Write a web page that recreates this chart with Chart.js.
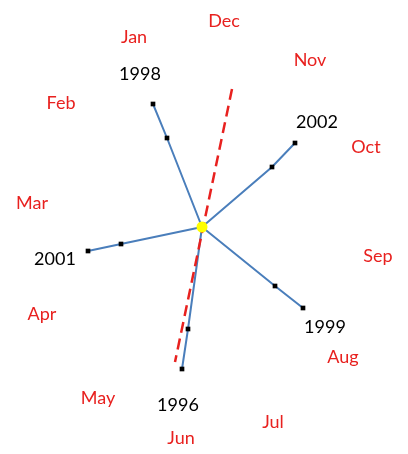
<!DOCTYPE html>
<html>
<head>
<meta charset="utf-8">
<script src="https://cdn.jsdelivr.net/npm/chart.js@4/dist/chart.umd.min.js"></script>
<style>
  html, body { margin: 0; padding: 0; background: #fff; }
  #wrap { width: 408px; height: 454px; }
</style>
</head>
<body>
<div id="wrap"><canvas id="myChart"></canvas></div>
<script>
// data space: centre of the star is (0,0), y grows upward
const years = ['1998', '2002', '2001', '1999', '1996'];
const midX = [-35, 70, -81, 73, -14];
const midY = [89, 60, -17, -59, -102];
const endX = [-49, 93, -114, 101, -20];
const endY = [123, 84, -24, -81, -142];

// year label positions
const yearLabelX = [-62, 115, -147, 123, -24];
const yearLabelY = [153, 105, -32, -100, -178];

// red dashed trend line
const trendX = [30, -27];
const trendY = [138, -135];

// month labels around the dial
const months = ['Jan', 'Feb', 'Mar', 'Apr', 'May', 'Jun', 'Jul', 'Aug', 'Sep', 'Oct', 'Nov', 'Dec'];
const monthX = [-68, -141, -170, -160, -104, -21, 71, 141, 176, 164, 108, 22];
const monthY = [190, 124, 24, -87, -171, -211, -195, -130, -29, 80, 167, 206];

const blue = '#4a7ebb';
const red = '#e8211f';

const datasets = [];
datasets.push({
  label: 'centre',
  order: 0,
  data: [{x: 0, y: 0}],
  pointRadius: 5.5,
  pointBackgroundColor: '#ffff00',
  pointBorderColor: '#ffff00',
  pointBorderWidth: 0
});
for (let i = 0; i < years.length; i++) {
  datasets.push({
    label: years[i],
    order: 2,
    data: [{x: 0, y: 0}, {x: midX[i], y: midY[i]}, {x: endX[i], y: endY[i]}],
    showLine: true,
    borderColor: blue,
    borderWidth: 2,
    pointStyle: 'rect',
    pointRadius: [0, 3.3, 3.3],
    pointBackgroundColor: '#000',
    pointBorderColor: '#000',
    pointBorderWidth: 0
  });
}
datasets.push({
  label: 'trend',
  order: 1,
  data: [{x: trendX[0], y: trendY[0]}, {x: trendX[1], y: trendY[1]}],
  showLine: true,
  borderColor: red,
  borderWidth: 2.5,
  borderDash: [11, 6],
  pointRadius: 0
});

const labelPlugin = {
  id: 'dialLabels',
  afterDatasetsDraw(chart) {
    const ctx = chart.ctx;
    const xs = chart.scales.x, ys = chart.scales.y;
    ctx.save();
    ctx.textAlign = 'center';
    ctx.textBaseline = 'middle';
    ctx.font = '18px Lato';
    ctx.fillStyle = red;
    for (let i = 0; i < months.length; i++) {
      ctx.fillText(months[i], xs.getPixelForValue(monthX[i]), ys.getPixelForValue(monthY[i]));
    }
    ctx.fillStyle = '#000';
    for (let i = 0; i < years.length; i++) {
      ctx.fillText(years[i], xs.getPixelForValue(yearLabelX[i]), ys.getPixelForValue(yearLabelY[i]));
    }
    ctx.restore();
  }
};

new Chart(document.getElementById('myChart').getContext('2d'), {
  type: 'scatter',
  data: { datasets: datasets },
  options: {
    responsive: true,
    maintainAspectRatio: false,
    animation: false,
    layout: { padding: 0, autoPadding: false },
    plugins: { legend: { display: false }, tooltip: { enabled: false } },
    scales: {
      x: { type: 'linear', min: -202, max: 206, display: false },
      y: { type: 'linear', min: -227, max: 227, display: false }
    }
  },
  plugins: [labelPlugin]
});
</script>
</body>
</html>
